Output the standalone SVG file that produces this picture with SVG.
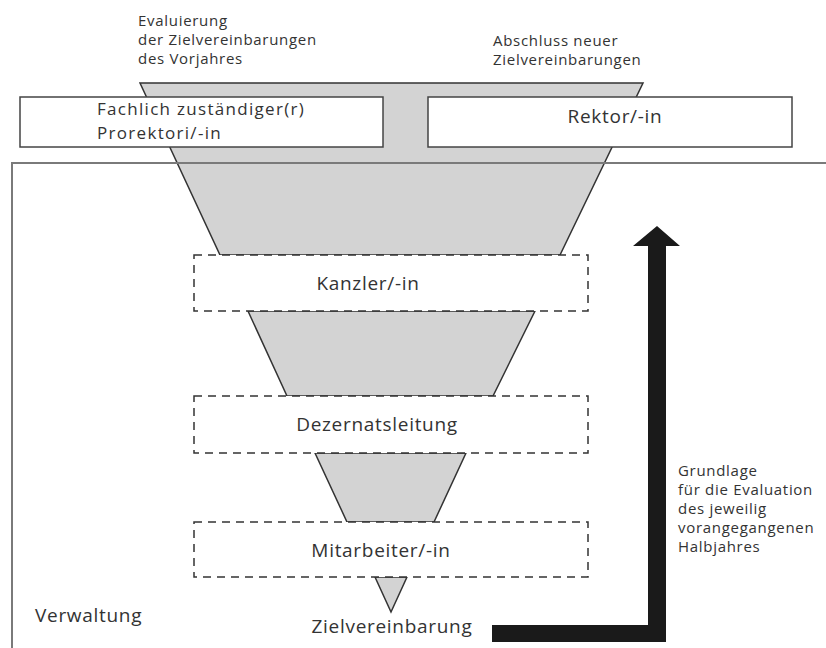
<svg xmlns="http://www.w3.org/2000/svg" width="826" height="648" viewBox="0 0 826 648">
<style>
.funnel{fill:#d3d3d3;stroke:#333;stroke-width:1.5;stroke-linejoin:miter}
.solid{fill:#fff;stroke:#444;stroke-width:1.5}
.dash{fill:#fff;stroke:#333;stroke-width:1.5;stroke-dasharray:8 6}
.frame{fill:none;stroke:#7a7a7a;stroke-width:2}
.lbl{font-family:"Open Sans","Noto Sans",sans-serif;font-size:19px;letter-spacing:0.7px;fill:#333}
.lbl2{font-family:"Open Sans","Noto Sans",sans-serif;font-size:17px;letter-spacing:1.3px;fill:#333}
.sm{font-family:"Open Sans","Noto Sans",sans-serif;font-size:15px;letter-spacing:0.7px;fill:#333}
.mid{text-anchor:middle}
.arrow{fill:#1a1a1a}
</style>
<rect width="826" height="648" fill="#fff"/>
<g id="funnels">
<polygon class="funnel" points="140,83 643,83 560,255 220,255"/>
<polygon class="funnel" points="248,311 535,311 493,396 287,396"/>
<polygon class="funnel" points="315,453 466,453 434,522 347,522"/>
<polygon class="funnel" points="375,577 407,577 391,612"/>
</g>
<g id="verwaltung">
<polyline class="frame" points="826,163 12,163 12,648"/>
<text class="lbl" x="35" y="622">Verwaltung</text>
</g>
<g id="prorektor">
<rect class="solid" x="20" y="97" width="363" height="50"/>
<text class="lbl2" x="97" y="115">Fachlich zuständiger(r)</text>
<text class="lbl2" x="97" y="139">Prorektori/-in</text>
</g>
<g id="rektor">
<rect class="solid" x="428" y="97" width="364" height="50"/>
<text class="lbl mid" x="615" y="123">Rektor/-in</text>
</g>
<g id="kanzler">
<rect class="dash" x="194" y="255" width="394" height="56"/>
<text class="lbl mid" x="368" y="290">Kanzler/-in</text>
</g>
<g id="dezernat">
<rect class="dash" x="194" y="396" width="394" height="57"/>
<text class="lbl mid" x="377" y="431">Dezernatsleitung</text>
</g>
<g id="mitarbeiter">
<rect class="dash" x="194" y="522" width="394" height="55"/>
<text class="lbl mid" x="381" y="557">Mitarbeiter/-in</text>
</g>
<g id="zielvereinbarung">
<text class="lbl mid" x="392" y="633">Zielvereinbarung</text>
</g>
<g id="labels-top">
<text class="sm" x="138" y="26">Evaluierung</text>
<text class="sm" x="138" y="45">der Zielvereinbarungen</text>
<text class="sm" x="138" y="64">des Vorjahres</text>
<text class="sm" x="493" y="46">Abschluss neuer</text>
<text class="sm" x="493" y="65">Zielvereinbarungen</text>
</g>
<g id="connectors">
<path class="arrow" d="M492,625 L648,625 L648,246 L633,246 L657,226 L680,246 L666,246 L666,642 L492,642 Z"/>
</g>
<g id="grundlage">
<text class="sm" x="678" y="476">Grundlage</text>
<text class="sm" x="678" y="495">für die Evaluation</text>
<text class="sm" x="678" y="514">des jeweilig</text>
<text class="sm" x="678" y="533">vorangegangenen</text>
<text class="sm" x="678" y="552">Halbjahres</text>
</g>
</svg>
